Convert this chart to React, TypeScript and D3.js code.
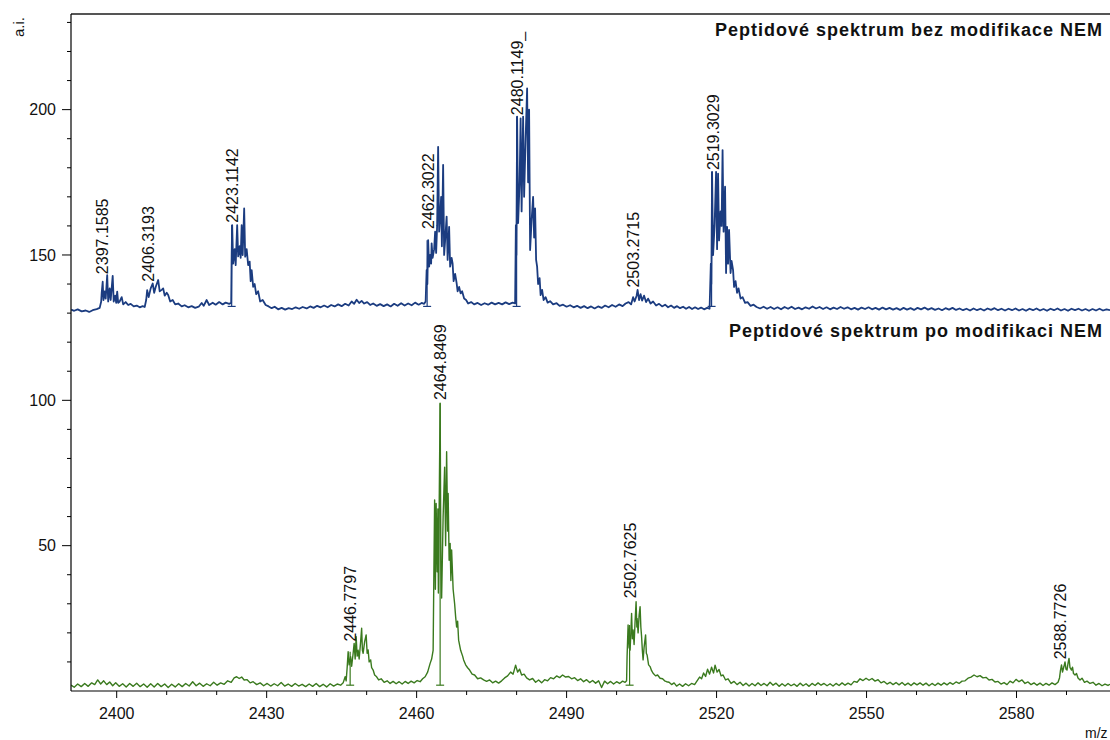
import React from "react";
import * as d3 from "d3";

// ---- axis ticks ----
const xMajorTicks = [2400, 2430, 2460, 2490, 2520, 2550, 2580];
const xMinorTicks = [2410, 2420, 2440, 2450, 2470, 2480, 2500, 2510, 2530, 2540, 2560, 2570, 2590];
const yMajorTicks = [50, 100, 150, 200];
const yMinorTicks = [10, 20, 30, 40, 60, 70, 80, 90, 110, 120, 130, 140, 160, 170, 180, 190, 210, 220, 230];

// ---- upper spectrum (bez modifikace NEM) : [m/z, intensity] ----
const blueSpectrum: [number, number][] = [
  [2390.9,131.2],[2391.5,130.8],[2392.2,131.3],[2393,130.6],[2393.8,130.9],[2394.5,130.4],[2395.2,131],[2396,131.4],[2396.6,131.8],
  [2396.9,134],[2397.0,137],[2397.2,140.8],[2397.35,134.5],[2397.6,137.5],[2397.8,135],[2398.1,143.1],[2398.3,134],[2398.6,138.5],[2398.8,134.5],[2399.2,142.8],[2399.4,134],[2399.7,136],[2399.9,133.5],[2400.1,137.4],[2400.3,133.5],[2400.6,134],[2401.0,135.5],[2401.3,133],[2401.8,133.8],[2402.3,132.8],[2402.8,133.2],[2403.4,132.3],[2404,132.6],[2404.6,132],[2405.2,132.4],[2405.6,132.1],
  [2405.9,134.5],[2406.1,137.9],[2406.4,135.5],[2406.8,138.5],[2407.2,140.2],[2407.5,137],[2407.8,139],[2408.3,141.4],[2408.6,137.5],[2409,138],[2409.3,138.5],[2409.6,136],[2410.0,137],[2410.3,136.2],[2410.7,134],[2411.2,134.5],[2411.7,133],[2412.3,133.3],[2413,132.3],[2413.6,132.7],[2414.3,132],[2415,132.4],[2415.7,131.8],[2416.4,132.2],[2417,133.5],[2417.4,132.5],[2418,134.5],[2418.5,132.8],[2419.2,133.6],[2419.8,132.9],[2420.5,133.8],[2421.2,133],[2421.8,133.6],[2422.5,133.2],[2422.9,133.5],
  [2423.0,150],[2423.1,160.3],[2423.3,147],[2423.6,152],[2423.8,146.5],[2424.1,160.3],[2424.3,149.5],[2424.6,153],[2424.8,149],[2425.0,160.3],[2425.2,150],[2425.5,166],[2425.7,149.4],[2426.0,152],[2426.3,146.5],[2426.6,147.7],[2426.8,141],[2427.0,144.8],[2427.3,139],[2427.6,140],[2427.9,136.5],[2428.3,137.5],[2428.7,134],[2429.2,134.5],[2429.8,132.8],[2430.4,132.3],[2431,131.7],[2431.6,132.2],[2432.3,131.3],[2433,131.8],[2433.7,131.2],[2434.4,131.7],[2435.1,131.4],[2435.8,132],[2436.5,131.5],[2437.2,132.1],[2438,131.6],[2438.7,132.3],[2439.4,131.8],[2440.1,132.5],[2440.8,132],[2441.5,132.6],[2442.2,132],[2442.9,132.8],[2443.6,132.3],[2444.3,133],[2445,132.4],[2445.7,133.2],[2446.4,132.6],[2447,134],[2447.5,133.2],[2448,134.6],[2448.5,133.5],[2449,134.2],[2449.5,133.3],[2450.1,133.8],[2450.7,132.8],[2451.3,133.3],[2452,132.5],[2452.7,133.1],[2453.4,132.4],[2454.1,133],[2454.8,132.3],[2455.5,133.2],[2456.2,132.5],[2456.9,133.4],[2457.6,132.6],[2458.3,133.3],[2459,132.7],[2459.7,133.6],[2460.4,132.9],[2461,133.5],[2461.5,133.2],
  [2461.8,134],[2462.0,144.8],[2462.15,140],[2462.3,155.1],[2462.5,146],[2462.7,150],[2462.9,147],[2463.0,154],[2463.2,149],[2463.5,152],[2463.7,158],[2463.9,150.7],[2464.1,160],[2464.3,187.2],[2464.5,158],[2464.7,163],[2464.9,170],[2465.05,153],[2465.3,181],[2465.5,150],[2465.7,155],[2466.0,163.2],[2466.2,148.3],[2466.5,159.7],[2466.7,146],[2467.0,149],[2467.2,147],[2467.4,141],[2467.7,143.5],[2468.0,140.3],[2468.2,137.5],[2468.5,139],[2468.8,136.8],[2469.1,137.5],[2469.5,135],[2469.9,134.5],[2470.3,133.3],[2470.9,133.8],[2471.5,133],[2472.2,133.5],[2472.9,132.8],[2473.6,133.4],[2474.3,132.9],[2475,133.6],[2475.7,133],[2476.4,133.5],[2477.1,133],[2477.8,133.7],[2478.5,133.1],[2479.2,133.6],[2479.7,133.3],
  [2479.85,160.3],[2479.95,150],[2480.1,197.6],[2480.3,161],[2480.6,175],[2480.8,197],[2481.0,165],[2481.3,197.6],[2481.5,170],[2481.8,190],[2482.1,207.3],[2482.3,175],[2482.5,200],[2482.7,151.7],[2483.0,162],[2483.3,170],[2483.5,156],[2483.7,166],[2483.9,148.3],[2484.1,146],[2484.3,140],[2484.6,142],[2484.8,136.2],[2485.1,138],[2485.4,134.5],[2485.8,135.5],[2486.2,133.6],[2486.7,134.1],[2487.3,133],[2488,133.4],[2488.6,132.5],[2489.3,132.9],[2490,132.2],[2490.7,132.7],[2491.4,132],[2492.1,132.5],[2492.8,131.8],[2493.5,132.4],[2494.2,131.7],[2494.9,132.3],[2495.6,131.6],[2496.3,132.3],[2497,131.8],[2497.7,132.6],[2498.4,132],[2499.1,132.8],[2499.8,132.2],[2500.5,133],[2501.2,132.4],[2501.8,133.3],[2502.4,133.8],[2502.9,133],
  [2503.3,135.5],[2503.6,134],[2504.0,136],[2504.2,138],[2504.5,134.5],[2504.8,136.5],[2505.1,134.3],[2505.5,136],[2505.9,133.8],[2506.3,135],[2506.8,133.3],[2507.3,134],[2507.9,132.6],[2508.5,133.2],[2509.1,132.3],[2509.7,132.9],[2510.3,132],[2510.9,132.6],[2511.5,131.8],[2512.1,132.4],[2512.7,131.7],[2513.3,132.2],[2513.9,131.5],[2514.5,132.1],[2515.1,131.4],[2515.7,132],[2516.3,131.4],[2516.9,131.9],[2517.5,131.3],[2518.1,131.8],[2518.6,131.5],
  [2518.85,147],[2518.95,140],[2519.1,178.6],[2519.3,150],[2519.6,160],[2519.9,178.6],[2520.1,152],[2520.3,178],[2520.5,155],[2520.8,165],[2521.0,160],[2521.2,186.1],[2521.4,158],[2521.7,173.5],[2521.9,143.8],[2522.1,159.7],[2522.3,147],[2522.5,158.6],[2522.8,143.8],[2523.0,148],[2523.3,144.8],[2523.5,139],[2523.8,141],[2524.1,137],[2524.4,138.5],[2524.8,135],[2525.2,135.5],[2525.7,133.5],[2526.2,133.8],[2526.8,132.5],[2527.4,132.9],[2528,132.1],
  [2528.7,131.6],[2529.4,132.2],[2530.1,131.5],[2530.8,132.1],[2531.5,131.4],[2532.2,132],[2532.9,131.3],[2533.6,132.1],[2534.3,131.5],[2535,132.2],[2535.7,131.4],[2536.4,131.9],[2537.1,131.3],[2537.8,132],[2538.5,131.5],[2539.2,132.3],[2539.9,131.6],[2540.6,132.1],[2541.3,131.4],[2542,132],[2542.7,131.3],[2543.4,131.9],[2544.1,131.4],[2544.8,132.1],[2545.5,131.5],[2546.2,132],[2546.9,131.3],[2547.6,131.8],[2548.3,131.2],[2549,131.9],[2549.7,131.4],[2550.4,132],[2551.1,131.3],[2551.8,131.8],[2552.5,131.2],[2553.2,131.9],[2553.9,131.3],[2554.6,131.8],[2555.3,131.2],[2556,131.7],[2556.7,131.1],[2557.4,131.8],[2558.1,131.2],[2558.8,131.7],[2559.5,131.1],[2560.2,131.8],[2560.9,131.3],[2561.6,131.9],[2562.3,131.2],[2563,131.7],[2563.7,131.1],[2564.4,131.6],[2565.1,131],[2565.8,131.7],[2566.5,131.2],[2567.2,131.8],[2567.9,131.1],[2568.6,131.6],[2569.3,131],[2570,131.5],[2570.7,130.9],[2571.4,131.6],[2572.1,131],[2572.8,131.5],[2573.5,130.9],[2574.2,131.6],[2574.9,131.1],[2575.6,131.7],[2576.3,131],[2577,131.5],[2577.7,130.9],[2578.4,131.5],[2579.1,131],[2579.8,131.6],[2580.5,130.9],[2581.2,131.4],[2581.9,130.8],[2582.6,131.5],[2583.3,131],[2584,131.6],[2584.7,130.9],[2585.4,131.4],[2586.1,130.8],[2586.8,131.5],[2587.5,131],[2588.2,131.6],[2588.9,130.9],[2589.6,131.4],[2590.3,130.8],[2591,131.5],[2591.7,131],[2592.4,131.5],[2593.1,130.9],[2593.8,131.4],[2594.5,130.8],[2595.2,131.4],[2595.9,130.9],[2596.6,131.5],[2597.3,130.9],[2598,131.3],[2598.7,131],
];

// ---- lower spectrum (po modifikaci NEM) : [m/z, intensity] ----
const greenSpectrum: [number, number][] = [
  [2390.9,2.0],[2391.5,1.3],[2392.2,2.4],[2392.9,1.5],[2393.6,2.6],[2394.3,1.6],[2395,2.8],[2395.6,2.2],[2396.2,3.8],[2396.8,2.4],[2397.4,3.5],[2398,2.2],[2398.6,3.1],[2399.2,1.8],[2399.8,2.8],[2400.5,1.6],[2401.2,2.5],[2401.9,1.4],[2402.6,2.6],[2403.3,1.6],[2404,2.7],[2404.7,1.5],[2405.4,2.4],[2406.1,1.3],[2406.8,2.5],[2407.5,1.4],[2408.2,2.6],[2408.9,1.5],[2409.6,2.4],[2410.3,1.2],[2411,2.3],[2411.7,1.4],[2412.4,2.5],[2413.1,1.5],[2413.8,2.6],[2414.5,1.7],[2415.2,3.2],[2415.9,1.8],[2416.6,2.7],[2417.3,1.6],[2418,2.5],[2418.7,1.8],[2419.4,3.0],[2420.1,2.0],[2420.8,2.8],[2421.5,2.3],[2422.2,3.5],[2422.9,3.0],[2423.5,4.5],[2424,4.9],[2424.5,4.3],[2425,4.8],[2425.5,3.8],[2426.1,3.9],[2426.7,2.8],[2427.3,3.2],[2428,2.2],[2428.7,2.8],[2429.4,1.8],[2430.1,2.6],[2430.8,1.7],[2431.5,2.5],[2432.2,1.8],[2432.9,2.9],[2433.6,1.7],[2434.3,2.4],[2435,1.6],[2435.7,2.6],[2436.4,1.7],[2437.1,2.3],[2437.8,1.5],[2438.5,2.4],[2439.2,1.6],[2439.9,2.6],[2440.6,1.5],[2441.3,2.3],[2442,1.4],[2442.7,2.5],[2443.4,1.7],[2444.1,2.4],[2444.8,2.0],[2445.3,2.8],
  [2445.7,4.9],[2445.9,3.5],[2446.1,8],[2446.3,13.5],[2446.5,9],[2446.8,11.8],[2447.0,8.5],[2447.3,13],[2447.5,16.4],[2447.7,11],[2447.9,18.7],[2448.1,12],[2448.3,14],[2448.5,11],[2448.8,17],[2449.0,21.6],[2449.15,14],[2449.3,13],[2449.6,17],[2449.9,19.3],[2450.1,13],[2450.3,14.1],[2450.5,10],[2450.8,10.7],[2451.0,8],[2451.3,7.2],[2451.6,5.5],[2452,4.9],[2452.4,3.8],[2452.9,4.2],[2453.5,3.0],[2454.1,3.5],[2454.7,2.6],[2455.3,3.3],[2455.9,2.5],[2456.5,3.2],[2457.1,2.4],[2457.7,3.3],[2458.3,2.6],[2458.9,3.4],[2459.5,2.8],[2460.1,3.6],[2460.7,3.2],[2461.2,4.2],[2461.7,4.9],[2462.2,6.5],[2462.7,9.5],[2463.0,11],[2463.3,14],
  [2463.45,40.6],[2463.6,65.7],[2463.75,35],[2463.9,64.5],[2464.1,41],[2464.25,62.6],[2464.35,33.7],[2464.7,99],[2464.85,45],[2465.0,32],[2465.3,60],[2465.6,77],[2465.8,50],[2466.0,82.3],[2466.2,55],[2466.3,68],[2466.5,45],[2466.7,50.8],[2466.85,38],[2467.0,48.5],[2467.3,35],[2467.6,30],[2467.8,25.6],[2468.0,22],[2468.2,24],[2468.4,17.5],[2468.8,14],[2469.2,12],[2469.4,10.7],[2469.8,9],[2470.2,8],[2470.6,7.2],[2471.1,5.8],[2471.6,5.5],[2472.2,4.2],[2472.8,4.5],[2473.4,3.8],[2474,3.3],[2474.6,3.8],[2475.2,2.8],[2475.8,3.4],[2476.4,2.7],[2477,3.5],[2477.6,4.5],[2478.2,5.2],[2478.8,6.5],[2479.3,5.8],[2479.8,8.9],[2480.2,6.5],[2480.6,7.5],[2481,5.5],[2481.5,5.8],[2482,4.5],[2482.6,3.8],[2483.2,4.3],[2483.8,3.0],[2484.4,3.8],[2485,2.8],[2485.6,3.9],[2486.2,3.5],[2486.8,4.6],[2487.4,4.2],[2488,5.2],[2488.6,4.6],[2489.2,5.5],[2489.8,4.8],[2490.4,5.0],[2491,4.2],[2491.6,4.6],[2492.2,3.6],[2492.8,4.2],[2493.4,3.2],[2494,3.9],[2494.6,2.9],[2495.2,3.6],[2495.8,2.7],[2496.4,3.5],[2497,1.2],[2497.6,3.4],[2498.2,2.5],[2498.8,3.3],[2499.4,2.4],[2500,3.2],[2500.6,2.6],[2501.2,3.4],[2501.7,3.0],
  [2502.0,3.5],[2502.1,12],[2502.3,22.7],[2502.5,15],[2502.7,14.1],[2502.85,20],[2503.0,26.7],[2503.15,18],[2503.3,21],[2503.5,16],[2503.7,24],[2503.9,30.7],[2504.05,22],[2504.1,25],[2504.3,20],[2504.5,26],[2504.7,29],[2504.85,22],[2505.0,18.7],[2505.15,14],[2505.3,10.7],[2505.5,15],[2505.8,19.3],[2505.95,13],[2506.1,12.4],[2506.4,9],[2506.7,8.4],[2507,7],[2507.3,6.1],[2507.8,5.2],[2508.2,5.5],[2508.7,4.4],[2509.2,4.2],[2509.6,3.5],[2510,3.2],[2510.5,3.0],[2511,2.2],[2511.5,2.8],[2512,1.7],[2512.6,2.4],[2513.2,1.6],[2513.8,2.5],[2514.4,1.8],[2515,2.6],[2515.6,2.2],[2516.1,3.5],[2516.6,4.8],[2517,4.2],[2517.4,6.2],[2517.8,5.0],[2518.2,7.5],[2518.6,5.8],[2519,8.2],[2519.4,6.2],[2519.7,8.9],[2520.1,6.5],[2520.5,7.4],[2520.9,5.2],[2521.3,5.5],[2521.8,3.8],[2522.3,4.2],[2522.9,2.6],[2523.5,3.3],[2524.1,2.2],[2524.7,3.0],[2525.3,1.9],[2525.9,2.7],[2526.5,1.7],[2527.1,2.6],[2527.7,1.8],[2528.3,2.8],[2528.9,1.9],[2529.5,2.6],[2530.1,1.8],[2530.7,3.0],[2531.3,2.0],[2531.9,2.7],[2532.5,1.6],[2533.1,2.5],[2533.7,1.7],[2534.3,2.6],[2534.9,1.8],[2535.5,2.4],[2536.1,1.6],[2536.7,2.7],[2537.3,1.8],[2537.9,2.5],[2538.5,1.6],[2539.1,2.6],[2539.7,1.9],[2540.3,2.8],[2540.9,2.0],[2541.5,2.6],[2542.1,1.8],[2542.7,2.5],[2543.3,1.7],[2543.9,2.6],[2544.5,1.9],[2545.1,2.8],[2545.7,2.0],[2546.3,2.7],[2546.9,2.1],[2547.5,3.3],[2548.1,3.0],[2548.7,4.2],[2549.3,3.6],[2549.9,4.4],[2550.5,3.7],[2551.1,4.3],[2551.7,3.4],[2552.3,3.9],[2552.9,2.8],[2553.5,3.3],[2554.1,2.4],[2554.7,3.0],[2555.3,2.2],[2555.9,2.9],[2556.5,2.1],[2557.1,2.9],[2557.7,2.0],[2558.3,2.7],[2558.9,1.9],[2559.5,2.8],[2560.1,2.1],[2560.7,2.8],[2561.3,2.0],[2561.9,2.7],[2562.5,1.8],[2563.1,2.6],[2563.7,1.9],[2564.3,2.7],[2564.9,2.0],[2565.5,2.8],[2566.1,2.1],[2566.7,2.9],[2567.3,2.3],[2567.9,3.1],[2568.5,2.6],[2569.1,3.4],[2569.7,3.5],[2570.3,4.4],[2570.9,4.8],[2571.5,5.5],[2572.1,4.9],[2572.7,5.3],[2573.3,4.5],[2573.9,4.7],[2574.5,3.8],[2575.1,4.0],[2575.7,3.1],[2576.3,3.3],[2576.9,2.4],[2577.5,2.9],[2578.1,2.2],[2578.7,3.4],[2579.3,2.8],[2579.9,4.0],[2580.5,3.2],[2581.1,3.8],[2581.7,2.6],[2582.3,3.1],[2582.9,2.2],[2583.5,2.8],[2584.1,2.0],[2584.7,2.7],[2585.3,1.9],[2585.9,2.6],[2586.5,2.0],[2587.1,2.8],[2587.7,2.2],[2588.3,3.0],[2588.6,4.5],
  [2588.8,7.2],[2589.0,9],[2589.2,6.5],[2589.5,8.5],[2589.7,10],[2589.9,7.5],[2590.1,7.2],[2590.3,9.5],[2590.5,11.2],[2590.7,8],[2591.0,7.2],[2591.2,8.2],[2591.4,6],[2591.7,5.5],[2592,6],[2592.3,4.5],[2592.7,3.8],[2593.1,4.4],[2593.6,3.0],[2594.1,3.4],[2594.7,2.6],[2595.3,3.0],[2595.9,2.0],[2596.5,2.6],[2597.1,1.8],[2597.7,2.4],[2598.3,1.9],[2598.7,2.3],
];

// ---- peak annotations: [label, intensity at label foot] ----
const blueLabels: [string, number][] = [
  ["2397.1585", 143.4], ["2406.3193", 140.8], ["2423.1142", 161.1], ["2462.3022", 158.9],
  ["2480.1149_", 198.1], ["2503.2715", 138.8], ["2519.3029", 179.2],
];
const greenLabels: [string, number][] = [
  ["2446.7797", 17.0], ["2464.8469", 100.1], ["2502.7625", 31.9], ["2588.7726", 10.9],
];
// peak-pick markers: [m/z, apex intensity, base intensity]
const blueMarkers: [number, number, number][] = [
  [2423.0, 160.3, 132.3], [2462.1, 155.1, 132.3], [2480.0, 197.6, 132.3], [2519.0, 178.6, 132.3],
];
const greenMarkers: [number, number, number][] = [
  [2446.7, 13.5, 2.0], [2464.7, 99.0, 2.0], [2502.6, 22.7, 2.0],
];

const blueTitle = "Peptidové spektrum bez modifikace NEM";
const greenTitle = "Peptidové spektrum po modifikaci NEM";

const BLUE = "#1b3c80";
const GREEN = "#3a7a1e";
const FONT = "'Liberation Sans', Arial, sans-serif";

export default function App() {
  const W = 1110, H = 740;
  const left = 71, right = 1110, top = 14, bottom = 691;
  const x = d3.scaleLinear().domain([2390.86, 2598.7]).range([left, right]);
  const y = d3.scaleLinear().domain([0, 232.9]).range([bottom, top]);
  const line = d3.line<[number, number]>().x(d => x(d[0])).y(d => y(d[1]));

  const marker = (m: [number, number, number], color: string, i: number) => (
    <g key={i} stroke={color} strokeWidth={1.2}>
      <line x1={x(m[0])} x2={x(m[0])} y1={y(m[2])} y2={y(m[1])} />
      <line x1={x(m[0]) - 4} x2={x(m[0]) + 4} y1={y(m[2])} y2={y(m[2])} />
    </g>
  );
  const label = (l: [string, number], i: number) => {
    const mz = parseFloat(l[0]);
    return (
      <text key={i} transform={`translate(${x(mz)},${y(l[1])}) rotate(-90)`} dy="0.35em"
        fontSize={16} fontFamily={FONT} fill="#111">{l[0]}</text>
    );
  };

  return (
    <svg width={W} height={H} style={{ position: "absolute", left: 0, top: 0, background: "#fff" }}>
      <rect width={W} height={H} fill="#fff" />
      <defs>
        <clipPath id="plot"><rect x={left} y={top} width={right - left} height={bottom - top} /></clipPath>
      </defs>
      {/* frame */}
      <line x1={left} x2={right} y1={top} y2={top} stroke="#555" strokeWidth={2} />
      <g clipPath="url(#plot)">
        <path d={line(blueSpectrum) || ""} fill="none" stroke={BLUE} strokeWidth={1.8} strokeLinejoin="round" />
        <path d={line(greenSpectrum) || ""} fill="none" stroke={GREEN} strokeWidth={1.4} strokeLinejoin="round" />
        {blueMarkers.map((m, i) => marker(m, BLUE, i))}
        {greenMarkers.map((m, i) => marker(m, GREEN, i))}
      </g>
      <line x1={left} x2={left} y1={top} y2={bottom} stroke="#000" strokeWidth={1.2} />
      <line x1={left} x2={right} y1={bottom} y2={bottom} stroke="#000" strokeWidth={1.2} />
      {/* x ticks */}
      {xMajorTicks.map(t => (
        <g key={"xM" + t}>
          <line x1={x(t)} x2={x(t)} y1={bottom} y2={bottom + 7} stroke="#000" />
          <text x={x(t)} y={719} textAnchor="middle" fontSize={16} fontFamily={FONT} fill="#111">{t}</text>
        </g>
      ))}
      {xMinorTicks.map(t => (
        <line key={"xm" + t} x1={x(t)} x2={x(t)} y1={bottom} y2={bottom + 4} stroke="#000" />
      ))}
      {/* y ticks */}
      {yMajorTicks.map(t => (
        <g key={"yM" + t}>
          <line x1={left - 9} x2={left} y1={y(t)} y2={y(t)} stroke="#000" />
          <text x={56} y={y(t)} dy="0.35em" textAnchor="end" fontSize={16} fontFamily={FONT} fill="#111">{t}</text>
        </g>
      ))}
      {yMinorTicks.map(t => (
        <line key={"ym" + t} x1={left - 4} x2={left} y1={y(t)} y2={y(t)} stroke="#000" />
      ))}
      {/* axis titles */}
      <text transform="translate(19,37) rotate(-90)" dy="0.35em" fontSize={15} fontFamily={FONT} fill="#111">a.i.</text>
      <text x={1085} y={738} fontSize={14} fontFamily={FONT} fill="#111">m/z</text>
      {/* peak labels */}
      {blueLabels.map(label)}
      {greenLabels.map((l, i) => label(l, 100 + i))}
      {/* spectrum titles */}
      <text x={1103} y={36} textAnchor="end" fontSize={18} fontWeight="bold" letterSpacing={1} fontFamily={FONT} fill="#111">{blueTitle}</text>
      <text x={1103} y={337} textAnchor="end" fontSize={18} fontWeight="bold" letterSpacing={1} fontFamily={FONT} fill="#111">{greenTitle}</text>
    </svg>
  );
}
